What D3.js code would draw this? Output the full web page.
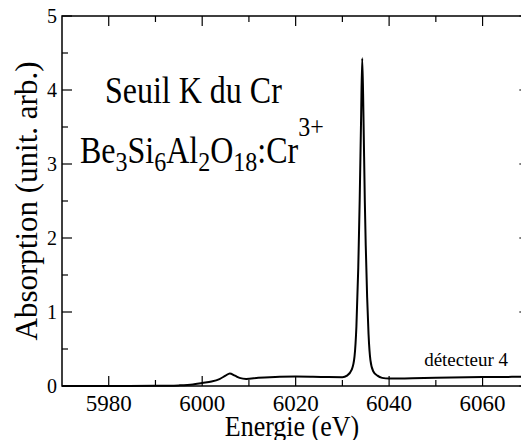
<!DOCTYPE html>
<html><head><meta charset="utf-8">
<script src="https://cdn.jsdelivr.net/npm/d3@7"></script>
</head><body style="margin:0">
<script>
const energy = [5970,5980,5990,5995,5998,6000,6002,6003.7,6005,6005.9,6007,6008,6009.4,6012,6016.6,6020,6023.7,6027,6030,6031,6032,6032.6,6033.0,6033.4,6033.7,6034.0,6034.25,6034.5,6034.8,6035.0,6035.3,6035.6,6036.0,6036.6,6037.5,6038.5,6040,6045,6050,6060,6070];
const absorption = [0,0,0.002,0.008,0.02,0.04,0.06,0.094,0.14,0.17,0.14,0.11,0.095,0.11,0.126,0.128,0.126,0.12,0.118,0.14,0.22,0.4,0.8,1.6,2.5,3.6,4.43,3.7,2.5,1.9,1.2,0.7,0.35,0.2,0.14,0.11,0.1,0.105,0.11,0.12,0.125];
const xTicks = [5980,6000,6020,6040,6060];
const xMinor = [5990,6010,6030,6050];
const yTicks = [0,1,2,3,4,5];
const yMinor = [0.5,1.5,2.5,3.5,4.5];

const FONT="Liberation Serif";
const m={l:62,t:16,r:529.3,b:386};
const svg=d3.select("body").append("svg").attr("width",521).attr("height",440).attr("font-family",FONT);
const x=d3.scaleLinear().domain([5970,6070]).range([m.l,m.r]);
const y=d3.scaleLinear().domain([0,5]).range([m.b,m.t]);

svg.append("rect").attr("x",m.l).attr("y",m.t).attr("width",m.r-m.l).attr("height",m.b-m.t)
 .attr("fill","none").attr("stroke","#000").attr("stroke-width",1.5);

function tick(x1,y1,x2,y2){svg.append("line").attr("x1",x1).attr("y1",y1).attr("x2",x2).attr("y2",y2).attr("stroke","#000").attr("stroke-width",1.2);}
xTicks.forEach(v=>{tick(x(v),m.b,x(v),m.b-10);tick(x(v),m.t,x(v),m.t+10);});
xMinor.forEach(v=>{tick(x(v),m.b,x(v),m.b-6);tick(x(v),m.t,x(v),m.t+6);});
yTicks.forEach(v=>{tick(m.l,y(v),m.l+10,y(v));tick(m.r,y(v),m.r-10,y(v));});
yMinor.forEach(v=>{tick(m.l,y(v),m.l+6,y(v));tick(m.r,y(v),m.r-6,y(v));});

function txt(){return svg.append("text").attr("font-family",FONT).style("font-family",FONT);}

xTicks.forEach(d=>{txt().attr("x",x(d)).attr("y",411).attr("text-anchor","middle").attr("font-size",23).text(d);});
yTicks.forEach(d=>{txt().attr("x",57).attr("y",y(d)+7).attr("text-anchor","end").attr("font-size",20).text(d);});

txt().attr("transform","translate(292,436) scale(1,1.15)").attr("text-anchor","middle").attr("font-size",26).text("Energie (eV)");
txt().attr("transform","translate(37,201) rotate(-90)").attr("text-anchor","middle").attr("font-size",31).text("Absorption (unit. arb.)");

const pts=energy.map((e,i)=>[e,absorption[i]]);
svg.append("path").datum(pts).attr("fill","none").attr("stroke","#000").attr("stroke-width",2)
 .attr("d",d3.line().x(d=>x(d[0])).y(d=>y(d[1])).curve(d3.curveMonotoneX));

txt().attr("transform","translate(105,103) scale(1,1.17)").attr("font-size",32).text("Seuil K du Cr");
const t2=txt().attr("transform","translate(80,163) scale(1,1.17)").attr("font-size",32);
const parts=[["Be",0],["3",1],["Si",0],["6",1],["Al",0],["2",1],["O",0],["18",1],[":Cr",0],["3+",2]];
let cur=0;
parts.forEach(([s,k])=>{
  const target = k===1?7:(k===2?-23:0);
  t2.append("tspan").attr("font-size",k?24:32).attr("dy",target-cur).text(s);
  cur=target;
});
txt().attr("x",508).attr("y",366).attr("text-anchor","end").attr("font-size",19).text("détecteur 4");
</script>
</body></html>
